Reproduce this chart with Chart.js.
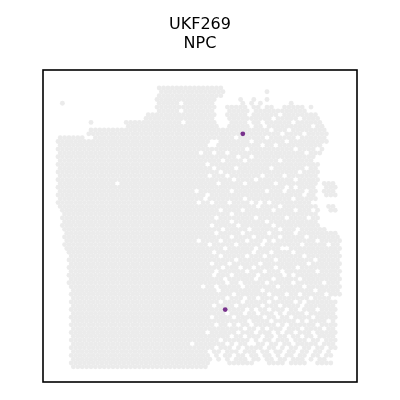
<!DOCTYPE html>
<html>
<head>
<meta charset="utf-8">
<script src="https://cdn.jsdelivr.net/npm/chart.js@4/dist/chart.umd.min.js"></script>
<style>
  html, body { margin: 0; padding: 0; background: #ffffff; }
  canvas { display: block; }
</style>
</head>
<body>
<canvas id="c" width="400" height="400"></canvas>
<script>
// ---- Data: spot grid (hex array: row index, column index; column parity follows row parity) ----
const titleLines = ['UKF269', 'NPC'];

// Tissue extent: [firstRow, lastRow, [[colStart, colEnd], ...]]
const tissueRowRanges = [
  [0, 0, [[46, 75]]],
  [1, 1, [[46, 75], [95, 95]]],
  [2, 2, [[46, 74]]],
  [3, 3, [[45, 71], [83, 83], [89, 89], [95, 95]]],
  [4, 4, [[2, 2], [45, 71], [84, 84], [88, 88], [92, 92], [106, 106]]],
  [5, 5, [[45, 71], [77, 86], [88, 98], [102, 112], [115, 115]]],
  [6, 6, [[45, 71], [77, 86], [89, 100], [102, 114]]],
  [7, 7, [[40, 71], [77, 86], [88, 117]]],
  [8, 8, [[40, 71], [77, 86], [88, 118]]],
  [9, 9, [[15, 15], [31, 72], [78, 86], [88, 119]]],
  [10, 10, [[31, 73], [77, 120]]],
  [11, 11, [[14, 121]]],
  [12, 12, [[14, 122]]],
  [13, 13, [[1, 11], [16, 122]]],
  [14, 14, [[0, 122]]],
  [15, 17, [[0, 120]]],
  [18, 19, [[0, 116]]],
  [20, 24, [[0, 118]]],
  [25, 28, [[0, 117], [121, 126]]],
  [29, 30, [[0, 117]]],
  [31, 32, [[1, 118], [123, 126]]],
  [33, 36, [[2, 118]]],
  [37, 37, [[3, 121]]],
  [38, 38, [[3, 126]]],
  [39, 42, [[3, 128]]],
  [43, 52, [[5, 128]]],
  [53, 54, [[6, 128]]],
  [55, 68, [[6, 126]]],
  [69, 71, [[6, 124]]],
  [72, 72, [[6, 68], [77, 89], [95, 102], [106, 112], [117, 124]]],
  [73, 73, [[6, 68]]]
];

// Spots missing inside the tissue outline: [row, col]
const missingSpots = [
  [4,56],[6,56],[9,57],[25,27],
  [5,92],[7,101],[8,110],[10,94],[10,116],[11,105],[13,109],[14,88],[14,104],[16,85],[16,107],
  [7,87],[10,87],[9,93],[8,98],[11,97],[13,95],[12,102],[15,99],[15,93],[9,106],[6,113],[12,112],
  [16,117],[17,113],[17,77],[18,82],[18,88],[17,71],[13,81],[17,65],[14,70],[14,72],[15,69],[15,71],
  [19,75],[19,85],[19,101],[21,71],[21,81],[21,97],[21,113],[23,77],[23,93],[23,103],[25,73],[25,85],
  [27,79],[27,103],[27,113],[29,67],[29,85],[29,107],[32,74],[32,84],[32,98],[32,108],[34,72],[34,90],
  [34,104],[34,114],[35,79],[35,95],[37,75],[37,87],[37,101],
  [20,68],[22,74],[23,69],[24,80],[24,90],[27,63],[28,68],[30,64],[30,70],[30,78],[33,79],[36,70],
  [36,82],[30,88],[30,92],[31,91],[27,95],[25,99],[30,96],[31,101],[26,108],[28,112],[22,110],[24,107],
  [26,104],[30,116],[32,116],[36,98],[37,109],
  [38,72],[38,84],[38,96],[38,108],[39,101],[39,113],[40,74],[40,86],[40,118],[41,81],[41,93],[41,111],
  [42,76],[42,90],[43,71],[43,97],[43,107],[44,74],[44,94],[44,112],[45,81],[45,99],[46,92],[46,114],
  [47,75],[47,83],[48,86],[48,102],[48,118],[49,71],[49,91],[50,76],[50,98],[50,110],[51,77],[51,107],
  [52,84],[52,100],[53,73],[53,93],[53,117],[54,80],[54,96],[54,110],[54,122],
  [40,64],[41,69],[39,79],[39,89],[40,94],[40,98],[44,86],[43,89],[42,102],[42,104],[46,70],[48,72],
  [46,78],[49,79],[47,89],[48,94],[47,99],[49,103],[49,107],[45,117],[47,109],[52,66],[52,72],[51,83],
  [50,90],[51,95],[52,112],[51,121],[55,99],[54,104],[55,115],[55,77],[55,85],[55,91],[55,125],[41,123],
  [56,74],[56,84],[56,96],[56,108],[56,112],[57,101],[57,111],[58,86],[58,90],[58,96],[58,110],[59,77],
  [59,91],[59,103],[60,80],[60,94],[60,100],[60,106],[60,116],[61,87],[61,97],[61,109],[61,113],[62,72],
  [62,100],[62,104],[62,118],[63,85],[63,91],[63,111],[64,82],[64,90],[64,98],[64,102],[65,79],[65,85],
  [65,93],[65,105],[65,111],[65,117],[66,92],[66,98],[66,106],[66,120],[67,77],[67,87],[67,89],[68,80],
  [68,84],[68,94],[68,100],[68,104],[68,110],[68,116],[68,122],[69,75],[69,83],[69,91],[69,97],[69,109],
  [69,115],[70,86],[70,102],[70,108],[70,120],[71,79],[71,99],[71,117],[71,123],
  [57,71],[57,81],[59,85],[57,93],[59,98],[58,104],[59,113],[58,118],[61,123],[60,70],[64,68],[62,78],
  [62,82],[62,88],[63,95],[65,99],[63,103],[64,108],[64,116],[63,121],[66,74],[67,81],[66,88],[67,95],
  [67,101],[67,107],[66,114],[67,119],[69,69],[70,74],[70,92],[70,98],[69,103],[70,114],[69,121],[70,80],
  [71,87],[71,93],[71,105],[71,113],[67,61],[70,70],[71,71],[68,72],[71,75]
];

// Spots with NPC signal: [row, col]
const npcSpots = [[12, 84], [58, 76]];

// ---- Build point lists from the data ----
function snap(r, c) { return ((c - r) % 2 !== 0) ? c + 1 : c; }
const missingSet = new Set(missingSpots.map(([r, c]) => r + ':' + snap(r, c)));
const npcSet = new Set(npcSpots.map(([r, c]) => r + ':' + snap(r, c)));
const greyPoints = [];
for (const [r0, r1, segs] of tissueRowRanges) {
  for (let r = r0; r <= r1; r++) {
    for (const [a, b] of segs) {
      for (let c = a; c <= b; c++) {
        if ((c - r) % 2 !== 0) continue;
        const key = r + ':' + c;
        if (missingSet.has(key) || npcSet.has(key)) continue;
        greyPoints.push({ x: c, y: r });
      }
    }
  }
}
const npcPoints = npcSpots.map(([r, c]) => ({ x: snap(r, c), y: r }));

const frame = {
  id: 'frame',
  beforeDraw(chart) {
    const ctx = chart.ctx;
    ctx.save();
    ctx.fillStyle = '#ffffff';
    ctx.fillRect(0, 0, chart.width, chart.height);
    ctx.restore();
  },
  afterDraw(chart) {
    const a = chart.chartArea, ctx = chart.ctx;
    ctx.save();
    ctx.strokeStyle = '#000000';
    ctx.lineWidth = 1.6;
    ctx.strokeRect(a.left, a.top, a.right - a.left, a.bottom - a.top);
    ctx.restore();
  }
};

new Chart(document.getElementById('c'), {
  type: 'scatter',
  data: {
    datasets: [
      { label: 'NPC', data: npcPoints, order: 0, backgroundColor: '#78328c',
        pointRadius: 2.4, pointBorderWidth: 0, pointHoverRadius: 2.4 },
      { label: 'spots', data: greyPoints, order: 1, backgroundColor: '#ebebeb',
        pointRadius: 2.45, pointBorderWidth: 0, pointHoverRadius: 2.45 }
    ]
  },
  options: {
    responsive: false,
    animation: false,
    events: [],
    layout: { padding: { left: 43, right: 43, top: 0, bottom: 18 } },
    plugins: {
      legend: { display: false },
      tooltip: { enabled: false },
      title: {
        display: true,
        text: titleLines,
        color: '#000000',
        font: { family: 'DejaVu Sans', size: 16, weight: 'normal', lineHeight: 1.2 },
        padding: { top: 15, bottom: 16.6 }
      }
    },
    scales: {
      x: { type: 'linear', display: false, min: -6.818, max: 135.909 },
      y: { type: 'linear', display: false, min: -4.712, max: 76.963, reverse: true }
    }
  },
  plugins: [frame]
});
</script>
</body>
</html>
